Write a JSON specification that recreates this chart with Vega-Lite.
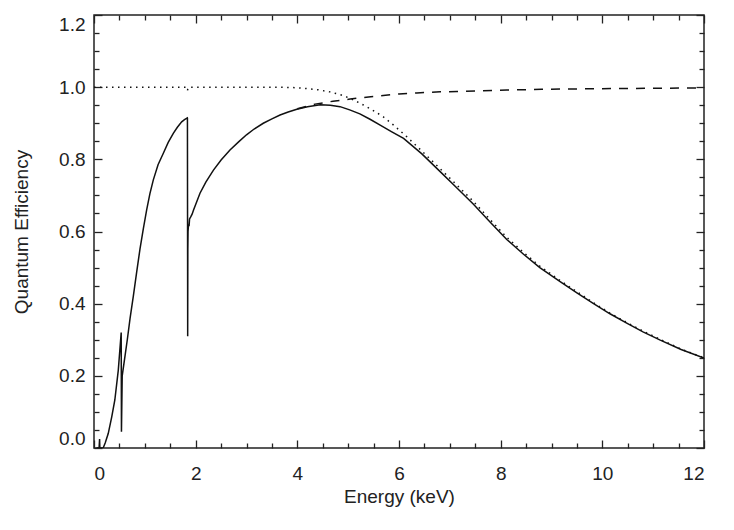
{
  "$schema": "https://vega.github.io/schema/vega-lite/v6.json",
  "width": 610,
  "height": 433,
  "autosize": {"type": "none"},
  "padding": {"left": 94, "top": 15, "right": 30, "bottom": 82},
  "background": "white",
  "config": {
    "view": {"stroke": "#222", "strokeWidth": 1.5},
    "axis": {
      "labelFont": "Liberation Sans",
      "titleFont": "Liberation Sans",
      "labelFontSize": 19,
      "titleFontSize": 19,
      "labelColor": "#222",
      "titleColor": "#222",
      "titleFontWeight": "normal",
      "domain": false,
      "tickColor": "#222",
      "tickWidth": 1.3,
      "grid": false,
      "labelOverlap": false
    }
  },
  "datasets": {
    "qe": [
      {"E": 0.05, "QE": 0.0}, {"E": 0.1, "QE": 0.0}, {"E": 0.11, "QE": 0.025}, {"E": 0.115, "QE": 0.0},
      {"E": 0.18, "QE": 0.0}, {"E": 0.22, "QE": 0.014}, {"E": 0.28, "QE": 0.04}, {"E": 0.35, "QE": 0.087},
      {"E": 0.41, "QE": 0.133}, {"E": 0.478, "QE": 0.216}, {"E": 0.535, "QE": 0.32}, {"E": 0.54, "QE": 0.045},
      {"E": 0.555, "QE": 0.2}, {"E": 0.6, "QE": 0.245}, {"E": 0.655, "QE": 0.3}, {"E": 0.71, "QE": 0.36},
      {"E": 0.773, "QE": 0.42}, {"E": 0.84, "QE": 0.488}, {"E": 0.905, "QE": 0.552}, {"E": 0.97, "QE": 0.607},
      {"E": 1.036, "QE": 0.66}, {"E": 1.1, "QE": 0.705}, {"E": 1.167, "QE": 0.743}, {"E": 1.26, "QE": 0.785},
      {"E": 1.364, "QE": 0.817}, {"E": 1.46, "QE": 0.847}, {"E": 1.56, "QE": 0.872}, {"E": 1.64, "QE": 0.889},
      {"E": 1.725, "QE": 0.904}, {"E": 1.78, "QE": 0.91}, {"E": 1.836, "QE": 0.915}, {"E": 1.838, "QE": 0.914},
      {"E": 1.843, "QE": 0.31}, {"E": 1.846, "QE": 0.55}, {"E": 1.85, "QE": 0.6}, {"E": 1.86, "QE": 0.62},
      {"E": 1.87, "QE": 0.615}, {"E": 1.88, "QE": 0.635}, {"E": 1.9, "QE": 0.64}, {"E": 1.93, "QE": 0.648},
      {"E": 1.96, "QE": 0.66}, {"E": 2.0, "QE": 0.675}, {"E": 2.085, "QE": 0.706}, {"E": 2.2, "QE": 0.737},
      {"E": 2.35, "QE": 0.77}, {"E": 2.5, "QE": 0.798}, {"E": 2.675, "QE": 0.826}, {"E": 2.85, "QE": 0.849},
      {"E": 3.0, "QE": 0.868}, {"E": 3.15, "QE": 0.884}, {"E": 3.33, "QE": 0.9}, {"E": 3.5, "QE": 0.912},
      {"E": 3.66, "QE": 0.923}, {"E": 3.82, "QE": 0.931}, {"E": 3.99, "QE": 0.939}, {"E": 4.2, "QE": 0.946},
      {"E": 4.45, "QE": 0.951}, {"E": 4.65, "QE": 0.95}, {"E": 4.84, "QE": 0.946}, {"E": 5.03, "QE": 0.937},
      {"E": 5.23, "QE": 0.926}, {"E": 5.43, "QE": 0.911}, {"E": 5.63, "QE": 0.895}, {"E": 5.85, "QE": 0.877},
      {"E": 6.09, "QE": 0.858}, {"E": 6.45, "QE": 0.815}, {"E": 6.81, "QE": 0.766}, {"E": 7.13, "QE": 0.722},
      {"E": 7.46, "QE": 0.676}, {"E": 7.8, "QE": 0.625}, {"E": 8.12, "QE": 0.578}, {"E": 8.45, "QE": 0.537},
      {"E": 8.77, "QE": 0.5}, {"E": 9.17, "QE": 0.461}, {"E": 9.5, "QE": 0.43}, {"E": 9.82, "QE": 0.401},
      {"E": 10.15, "QE": 0.372}, {"E": 10.48, "QE": 0.346}, {"E": 10.8, "QE": 0.322}, {"E": 11.14, "QE": 0.299},
      {"E": 11.55, "QE": 0.273}, {"E": 12.0, "QE": 0.249}
    ],
    "abs": [
      {"E": 0.0, "QE": 1.0}, {"E": 1.8, "QE": 1.0}, {"E": 1.838, "QE": 0.99}, {"E": 1.845, "QE": 0.995},
      {"E": 1.86, "QE": 1.0}, {"E": 3.5, "QE": 1.0}, {"E": 3.9, "QE": 0.999}, {"E": 4.12, "QE": 0.997},
      {"E": 4.4, "QE": 0.993}, {"E": 4.64, "QE": 0.987}, {"E": 4.85, "QE": 0.979}, {"E": 5.04, "QE": 0.969},
      {"E": 5.2, "QE": 0.958}, {"E": 5.36, "QE": 0.946}, {"E": 5.52, "QE": 0.933}, {"E": 5.69, "QE": 0.918},
      {"E": 5.9, "QE": 0.894}, {"E": 6.15, "QE": 0.863}, {"E": 6.45, "QE": 0.823}, {"E": 6.81, "QE": 0.774},
      {"E": 7.13, "QE": 0.73}, {"E": 7.46, "QE": 0.684}, {"E": 7.8, "QE": 0.632}, {"E": 8.12, "QE": 0.584},
      {"E": 8.45, "QE": 0.542}, {"E": 8.77, "QE": 0.504}, {"E": 9.17, "QE": 0.464}, {"E": 9.5, "QE": 0.433},
      {"E": 9.82, "QE": 0.403}, {"E": 10.15, "QE": 0.374}, {"E": 10.48, "QE": 0.348}, {"E": 10.8, "QE": 0.324},
      {"E": 11.14, "QE": 0.301}, {"E": 11.55, "QE": 0.274}, {"E": 12.0, "QE": 0.25}
    ],
    "trans": [
      {"E": 4.0, "QE": 0.94}, {"E": 4.35, "QE": 0.953}, {"E": 4.7, "QE": 0.961}, {"E": 5.04, "QE": 0.967},
      {"E": 5.4, "QE": 0.973}, {"E": 5.69, "QE": 0.977}, {"E": 6.0, "QE": 0.981}, {"E": 6.35, "QE": 0.984},
      {"E": 6.81, "QE": 0.987}, {"E": 7.14, "QE": 0.988}, {"E": 7.6, "QE": 0.99}, {"E": 8.12, "QE": 0.992},
      {"E": 8.8, "QE": 0.994}, {"E": 9.43, "QE": 0.995}, {"E": 10.2, "QE": 0.996}, {"E": 11.0, "QE": 0.997},
      {"E": 12.0, "QE": 0.998}
    ]
  },
  "layer": [
    {
      "data": {"name": "qe"},
      "mark": {"type": "line", "color": "#111", "strokeWidth": 1.5, "clip": true},
      "encoding": {
        "x": {
          "field": "E", "type": "quantitative",
          "scale": {"domain": [0, 12], "nice": false, "zero": false},
          "axis": {
            "orient": "bottom", "offset": -8, "tickSize": 8,
            "title": "Energy (keV)",
            "values": [0, 2, 4, 6, 8, 10, 12],
            "format": "d",
            "labelPadding": 16,
            "titlePadding": 4
          }
        },
        "y": {
          "field": "QE", "type": "quantitative",
          "scale": {"domain": [0, 1.2], "nice": false, "zero": false},
          "axis": {
            "orient": "left", "offset": -8, "tickSize": 8,
            "title": "Quantum Efficiency",
            "values": [0, 0.2, 0.4, 0.6, 0.8, 1.0, 1.2],
            "format": ".1f",
            "labelFlush": true,
            "labelPadding": 9,
            "titlePadding": 27
          }
        }
      }
    },
    {
      "data": {"name": "abs"},
      "mark": {"type": "line", "color": "#111", "strokeWidth": 1.5, "strokeDash": [1.5, 4.5], "clip": true},
      "encoding": {
        "x": {
          "field": "E", "type": "quantitative",
          "axis": {"orient": "top", "offset": -8, "tickSize": 8, "title": null, "labels": false, "values": [0, 2, 4, 6, 8, 10, 12]}
        },
        "y": {
          "field": "QE", "type": "quantitative",
          "axis": {"orient": "right", "offset": -8, "tickSize": 8, "title": null, "labels": false, "values": [0, 0.2, 0.4, 0.6, 0.8, 1.0, 1.2]}
        }
      }
    },
    {
      "data": {"name": "trans"},
      "mark": {"type": "line", "color": "#111", "strokeWidth": 1.5, "strokeDash": [9, 8], "clip": true},
      "encoding": {
        "x": {
          "field": "E", "type": "quantitative",
          "axis": {"orient": "bottom", "offset": -5, "tickSize": 5, "title": null, "labels": false, "values": [0.5, 1, 1.5, 2.5, 3, 3.5, 4.5, 5, 5.5, 6.5, 7, 7.5, 8.5, 9, 9.5, 10.5, 11, 11.5]}
        },
        "y": {
          "field": "QE", "type": "quantitative",
          "axis": {"orient": "left", "offset": -5, "tickSize": 5, "title": null, "labels": false, "values": [0.05, 0.1, 0.15, 0.25, 0.3, 0.35, 0.45, 0.5, 0.55, 0.65, 0.7, 0.75, 0.85, 0.9, 0.95, 1.05, 1.1, 1.15]}
        }
      }
    },
    {
      "data": {"name": "trans"},
      "mark": {"type": "line", "strokeOpacity": 0, "clip": true},
      "encoding": {
        "x": {
          "field": "E", "type": "quantitative",
          "axis": {"orient": "top", "offset": -5, "tickSize": 5, "title": null, "labels": false, "values": [0.5, 1, 1.5, 2.5, 3, 3.5, 4.5, 5, 5.5, 6.5, 7, 7.5, 8.5, 9, 9.5, 10.5, 11, 11.5]}
        },
        "y": {
          "field": "QE", "type": "quantitative",
          "axis": {"orient": "right", "offset": -5, "tickSize": 5, "title": null, "labels": false, "values": [0.05, 0.1, 0.15, 0.25, 0.3, 0.35, 0.45, 0.5, 0.55, 0.65, 0.7, 0.75, 0.85, 0.9, 0.95, 1.05, 1.1, 1.15]}
        }
      }
    }
  ],
  "resolve": {"axis": {"x": "independent", "y": "independent"}}
}
